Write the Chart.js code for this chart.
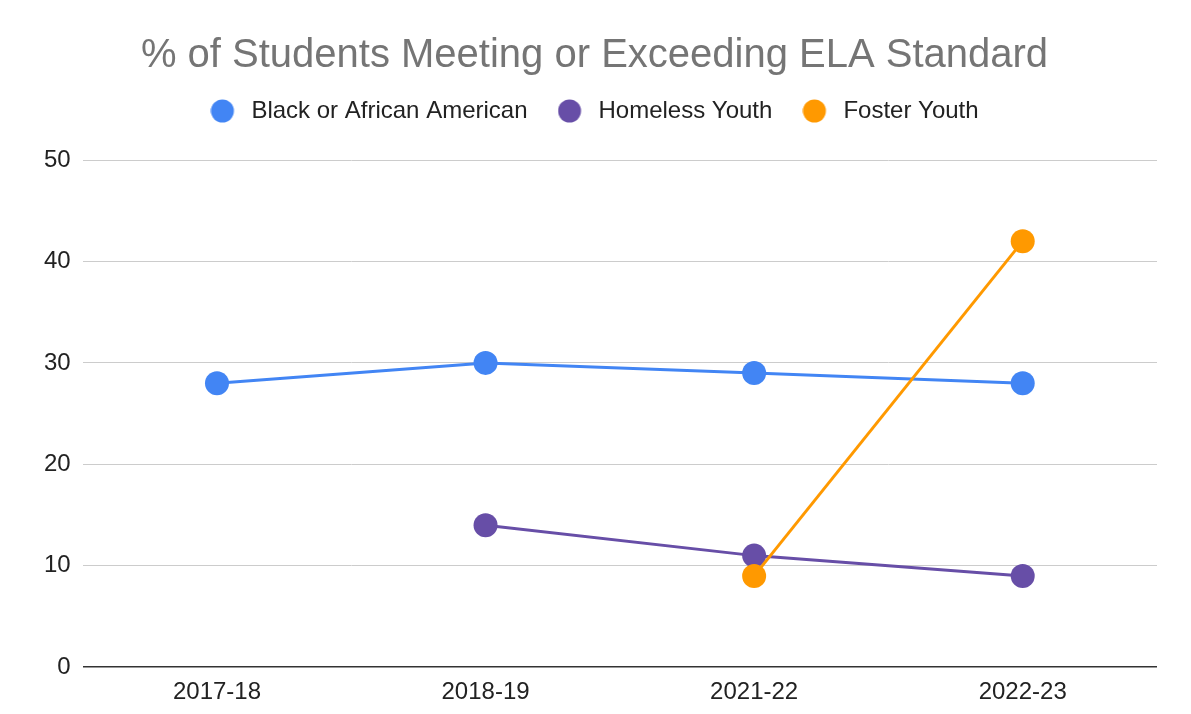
<!DOCTYPE html>
<html>
<head>
<meta charset="utf-8">
<script src="https://cdn.jsdelivr.net/npm/chart.js@4"></script>
<style>
  html, body { margin: 0; padding: 0; background: #fff; }
  #wrap { width: 1191px; height: 714px; }
</style>
</head>
<body>
<div id="wrap"><canvas id="elaChart"></canvas></div>
<script>
const years = ['2017-18', '2018-19', '2021-22', '2022-23'];
const blackAfricanAmerican = [28, 30, 29, 28];
const homelessYouth = [null, 14, 11, 9];
const fosterYouth = [null, null, 9, 42];

// round legend marker sitting at the left of a wider box, like the sheets legend
function legendDot(color) {
    const c = document.createElement('canvas');
    c.width = 29;
    c.height = 24;
    const g = c.getContext('2d');
    g.fillStyle = color;
    g.beginPath();
    g.arc(12, 12, 11.5, 0, Math.PI * 2);
    g.fill();
    return c;
}

// push the plot down below the legend
const legendGap = {
    id: 'legendGap',
    beforeInit(chart) {
        const fit = chart.legend.fit;
        chart.legend.fit = function () {
            fit.bind(chart.legend)();
            this.height += 27;
        };
    }
};

const ctx = document.getElementById('elaChart').getContext('2d');
const elaChart = new Chart(ctx, {
    type: 'line',
    data: {
        labels: years,
        datasets: [{
            label: 'Black or African American',
            data: blackAfricanAmerican,
            borderColor: '#4285f4',
            backgroundColor: '#4285f4',
            order: 2
        }, {
            label: 'Homeless Youth',
            data: homelessYouth,
            borderColor: '#674ea7',
            backgroundColor: '#674ea7',
            order: 1
        }, {
            label: 'Foster Youth',
            data: fosterYouth,
            borderColor: '#ff9900',
            backgroundColor: '#ff9900',
            order: 0
        }]
    },
    plugins: [legendGap],
    options: {
        responsive: true,
        maintainAspectRatio: false,
        animation: false,
        layout: { padding: { left: 32, right: 34, top: 26, bottom: 4 } },
        elements: {
            line: { borderWidth: 3, tension: 0 },
            point: { radius: 12, hoverRadius: 12, borderWidth: 0 }
        },
        plugins: {
            title: {
                display: true,
                text: '% of Students Meeting or Exceeding ELA Standard',
                color: '#757575',
                font: { family: 'Liberation Sans', size: 40, weight: 'normal', lineHeight: 1 },
                padding: { top: 10, bottom: -7 }
            },
            legend: {
                labels: {
                    usePointStyle: true,
                    pointStyleWidth: 29,
                    boxHeight: 24,
                    padding: 30,
                    color: '#222',
                    font: { family: 'Liberation Sans', size: 24 },
                    sort: (a, b) => a.datasetIndex - b.datasetIndex,
                    generateLabels(chart) {
                        const items = Chart.defaults.plugins.legend.labels.generateLabels(chart);
                        items.forEach(it => { it.pointStyle = legendDot(it.fillStyle); });
                        return items;
                    }
                }
            },
            tooltip: { enabled: false }
        },
        scales: {
            x: {
                offset: true,
                grid: { display: false },
                border: { display: false },
                ticks: {
                    color: '#222',
                    padding: 3,
                    font: { family: 'Liberation Sans', size: 24 }
                }
            },
            y: {
                min: 0,
                max: 50,
                ticks: {
                    stepSize: 10,
                    color: '#222',
                    padding: 12,
                    font: { family: 'Liberation Sans', size: 24 }
                },
                border: { display: false },
                grid: {
                    drawTicks: false,
                    color: c => c.tick && c.tick.value === 0 ? '#333' : '#cccccc',
                    lineWidth: c => c.tick && c.tick.value === 0 ? 1.5 : 1
                }
            }
        }
    }
});
</script>
</body>
</html>
